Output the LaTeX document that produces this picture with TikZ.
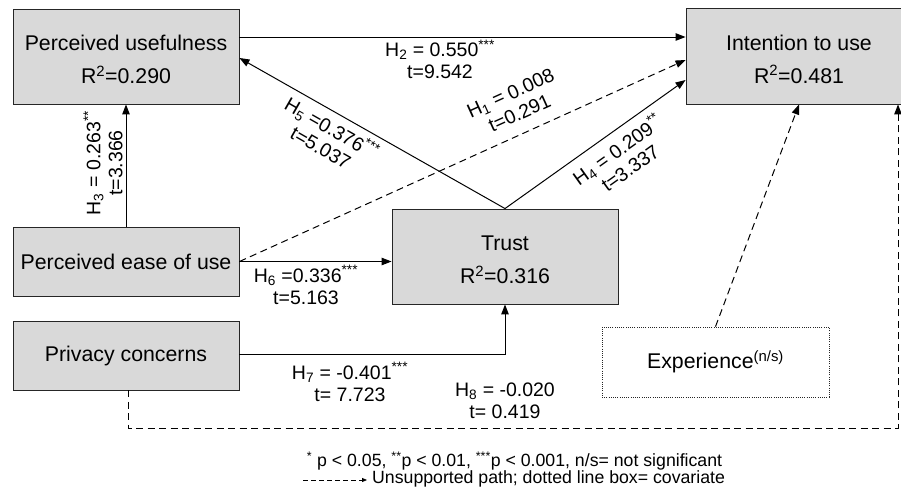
\documentclass[tikz,border=0pt]{standalone}
\usepackage{fontspec}
\setmainfont{Liberation Sans}
\usetikzlibrary{arrows.meta}
\definecolor{boxgray}{RGB}{217,217,217}
\newcommand\bxstrut{\rule{0pt}{21.5pt}}
\begin{document}
\begin{tikzpicture}[x=1pt,y=-1pt,
  box/.style={draw=black!85, line width=0.9pt, fill=boxgray, minimum width=226pt, align=center, inner sep=0pt, font=\fontsize{21.3}{33}\selectfont},
  covbox/.style={draw=black!85, line width=0.8pt, dash pattern=on 1pt off 1.2pt, minimum width=227pt, minimum height=70pt, inner sep=0pt, font=\fontsize{21.3}{30}\selectfont},
  lbl/.style={align=center, inner sep=0pt, font=\fontsize{19.5}{22}\selectfont},
  arr/.style={line width=1pt, -{Triangle[length=10pt,width=7.5pt]}},
  dsh/.style={dash pattern=on 7pt off 4.5pt},
  legend/.style={inner sep=0pt, font=\fontsize{17.7}{20}\selectfont}]
\useasboundingbox (0,0) rectangle (901,488);
% boxes
\node[box, minimum height=95pt] (pu) at (126,56.5) {\bxstrut Perceived usefulness\\R\textsuperscript{2}=0.290};
\node[box, minimum height=96pt] (iu) at (799,56) {\bxstrut Intention to use\\R\textsuperscript{2}=0.481};
\node[box, minimum height=69pt] (peu) at (126,261.5) {Perceived ease of use};
\node[box, minimum height=69pt] (pc) at (126,355.5) {Privacy concerns};
\node[box, minimum height=95pt] (tr) at (505,256.5) {\bxstrut Trust\\R\textsuperscript{2}=0.316};
\node[covbox] (ex) at (715.5,362) {Experience\textsuperscript{(n/s)}};
% connectors
\draw[arr] ([yshift=19.5pt]pu.east) -- ([yshift=19pt]iu.west);
\draw[arr, dsh] (peu.east) -- ([yshift=-4pt]iu.west);
\draw[arr] (peu.east) -- (peu.east -| tr.west);
\draw[arr] (tr.north) -- ([yshift=-24pt]iu.west);
\draw[arr] (tr.north) -- ([yshift=-1.5pt]pu.east);
\draw[arr] (peu.north) -- (pu.south);
\draw[arr] ([yshift=1.5pt]pc.east) -| (tr.south);
\draw[arr, dsh] ([xshift=2pt]pc.south) -- ++(0,38) -| ([xshift=99pt]iu.south);
\draw[arr, dsh] (ex.north) -- (iu.south);
% labels
\node[lbl] (h2) at (440,59.5) {H\textsubscript{2} = 0.550\textsuperscript{***}\\t=9.542};
\node[lbl, rotate=24.4] (h1) at (515,103) {H\textsubscript{1} = 0.008\\t=0.291};
\node[lbl, rotate=35.5] (h4) at (623,158) {H\textsubscript{4} = 0.209\textsuperscript{**}\\t=3.337};
\node[lbl, rotate=-29.7] (h5) at (327,137) {H\textsubscript{5} =0.376\textsuperscript{***}\\t=5.037};
\node[lbl, rotate=90] (h3) at (103,163) {H\textsubscript{3} = 0.263\textsuperscript{**}\\t=3.366};
\node[lbl] (h6) at (306,285) {H\textsubscript{6} =0.336\textsuperscript{***}\\t=5.163};
\node[lbl] (h7) at (350,382) {H\textsubscript{7} = -0.401\textsuperscript{***}\\t= 7.723};
\node[lbl] (h8) at (505,401) {H\textsubscript{8} = -0.020\\t= 0.419};
% legend
\node[legend] (lg1) at (514.5,461) {\textsuperscript{*} p < 0.05, \textsuperscript{**}p < 0.01, \textsuperscript{***}p < 0.001, n/s= not significant};
\coordinate (lgA) at (303,480);
\coordinate (lgB) at (367,480);
\draw[line width=0.8pt, dash pattern=on 5pt off 3pt, -{Triangle[length=5pt,width=4pt]}] (lgA) -- (lgB);
\node[legend, anchor=west] (lg2) at (372,479) {Unsupported path; dotted line box= covariate};
\end{tikzpicture}
\end{document}
